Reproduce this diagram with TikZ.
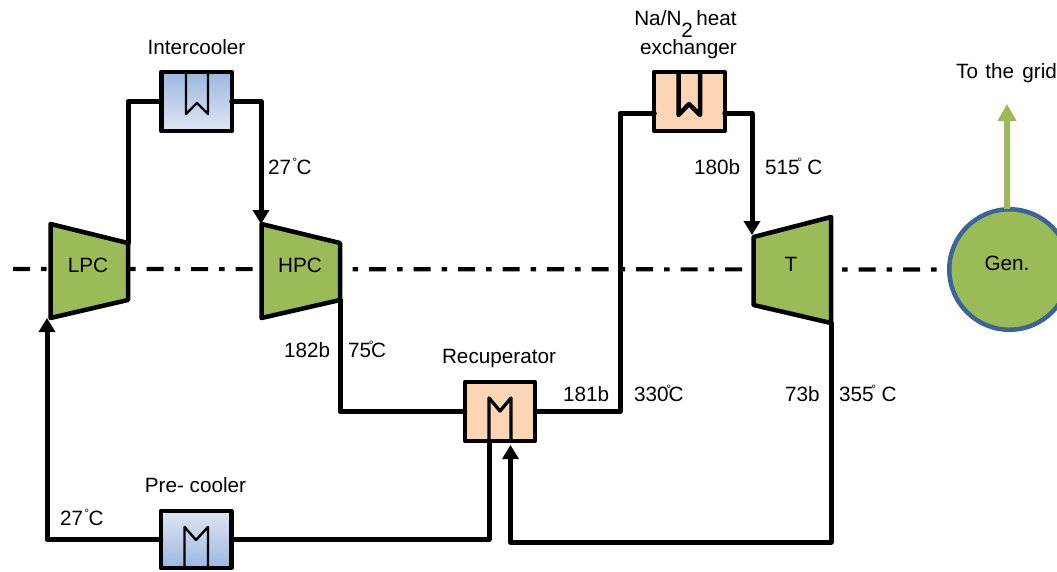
\documentclass[tikz,border=0pt]{standalone}
\usepackage{fontspec}
\setmainfont{Liberation Sans}
\usetikzlibrary{arrows.meta}
\definecolor{gr}{HTML}{9BBB59}
\definecolor{pe}{HTML}{FCD5B5}
\definecolor{bd}{HTML}{9DB7E0}
\definecolor{bl}{HTML}{DFE6F4}
\definecolor{gb}{HTML}{3C6496}
\newcommand\dg{\hbox to 0pt{\hss\raisebox{0.36em}{\fontsize{12}{12}\selectfont °}\kern-2.5pt}}
\newcommand\dgw{\hbox to 5.5pt{\hss\raisebox{0.36em}{\fontsize{12}{12}\selectfont °}\kern-0.5pt}}
\tikzset{
  lab/.style={font=\fontsize{20.7}{20.7}\selectfont,inner sep=0pt,anchor=base},
  labw/.style={lab,anchor=base west},
  pipe/.style={line width=5pt,line join=round,line cap=round},
  arr/.style={pipe,-{Triangle[length=14pt,width=16pt]}},
  hx/.style={draw,line width=4pt,inner sep=0pt,minimum width=70.5pt,minimum height=59pt,outer sep=0pt,line join=round},
  hot/.style={hx,fill=pe},
  coolA/.style={hx,line width=4.5pt,top color=bd,bottom color=bl},
  coolB/.style={hx,line width=4.5pt,top color=bl,bottom color=bd},
  coil/.style={line width=3.3pt,line join=round,line cap=round},
  coilthin/.style={line width=2.4pt,line join=round,line cap=round},
  turbo/.style={draw,line width=4.5pt,fill=gr,line join=round}
}
\begin{document}
\begin{tikzpicture}[x=1pt,y=-1pt]
\useasboundingbox (0,0) rectangle (1057,571);
\clip (0,0) rectangle (1057,571);
% corners
\coordinate (lpcNW) at (50.5,224); \coordinate (lpcNE) at (128,243);
\coordinate (lpcSE) at (128,300); \coordinate (lpcSW) at (50.5,318);
\coordinate (hpcNW) at (261.5,224); \coordinate (hpcNE) at (340,243);
\coordinate (hpcSE) at (340,300); \coordinate (hpcSW) at (261.5,318);
\coordinate (tNW) at (753.5,237); \coordinate (tNE) at (831,217);
\coordinate (tSE) at (831,323); \coordinate (tSW) at (753.5,305);
\coordinate (shaft) at (13,269);
\coordinate (lpcIn) at (47,318);
\coordinate (hpcIn) at (261,224);
\coordinate (tIn) at (752,235);
\coordinate (grid) at (1007,104);
\coordinate (recIn) at (510.5,445);
% shaft
\node[circle,minimum size=120.5pt,inner sep=0pt,outer sep=0pt] (gen) at (1009.5,269.5) {};
\draw[line width=4.2pt,dash pattern=on 17pt off 11pt on 5.5pt off 11pt] (shaft) -- (gen.west);
\node[circle,draw=gb,line width=4.5pt,fill=gr,minimum size=120.5pt,inner sep=0pt,outer sep=0pt] at (gen) {};
% machines
\draw[turbo] (lpcNW) -- (lpcNE) -- (lpcSE) -- (lpcSW) -- cycle;
\draw[turbo] (hpcNW) -- (hpcNE) -- (hpcSE) -- (hpcSW) -- cycle;
\draw[turbo] (tNW) -- (tNE) -- (tSE) -- (tSW) -- cycle;
% heat exchangers
\node[coolA] (ic) at (196.5,101.5) {};
\node[coolB,minimum height=57pt] (pc) at (196,539.5) {};
\node[hot] (naHx) at (689.5,101.5) {};
\node[hot] (rec) at (500,411.5) {};
% coils
\draw[coilthin] (186,73) -- (186,114) -- (197,103) -- (208,114) -- (208,73);
\draw[coilthin] (184.5,567) -- (184.5,527) -- (196,540) -- (208,527) -- (208,567);
\draw[coil,line width=4.5pt] (678.5,73) -- (678.5,115) -- (689,104) -- (700,115) -- (700,73);
\draw[coil] (489,440) -- (489,398) -- (500,411) -- (511,398) -- (511,440);
% connectors
\draw[pipe] (lpcNE) |- (ic.west);
\draw[arr] (ic.east) -| (hpcIn);
\draw[pipe] (hpcSE) |- (rec.west);
\draw[pipe] (rec.east) -| (620,113.5) -- (naHx.west |- 0,113.5);
\draw[arr] (naHx.east |- 0,113.5) -| (tIn);
\draw[arr] (tSE) |- (510.5,542) -- (recIn);
\draw[pipe] (rec.south -| 489,0) |- (pc.east);
\draw[arr] (pc.west) -| (lpcIn);
\draw[line width=6pt,color=gr,-{Triangle[length=17pt,width=18pt]}] (gen.north -| grid) -- (grid);
% labels
\node[lab] (lpcL) at (88,272) {LPC};
\node[lab] (hpcL) at (300,272) {HPC};
\node[lab] (tL) at (791,271) {T};
\node[lab] (genL) at (1007,270) {Gen.};
\node[labw] (gridL) at (956,78) {To\kern1.5pt{} the\kern2.5pt{} grid};
\node[lab] (icL) at (196.5,54) {Intercooler};
\node[lab] (pcL) at (195.5,492) {Pre- cooler};
\node[lab] (recL) at (499,363) {Recuperator};
\node[labw] (t1) at (268,174) {27\dgw C};
\node[labw] (t2) at (60,525) {27\dgw C};
\node[labw] (p1) at (284,357) {182b};
\node[labw] (t3) at (348,357) {75\dg C};
\node[labw] (p2) at (563,401) {181b};
\node[labw] (t4) at (634,401) {330\dg C};
\node[labw] (p3) at (785,401) {73b};
\node[labw] (t5) at (839,401) {355\dg\kern2pt\ C};
\node[labw] (p4) at (694,174) {180b};
\node[labw] (t6) at (765,174) {515\dg\kern2pt\ C};
\node[lab,align=center,anchor=base] (naL) at (687,54) {Na/N\smash{\raisebox{-12pt}{2}}\,heat\hspace*{3pt}\\[7.5pt]\hspace*{3pt}exchanger};
\end{tikzpicture}
\end{document}
